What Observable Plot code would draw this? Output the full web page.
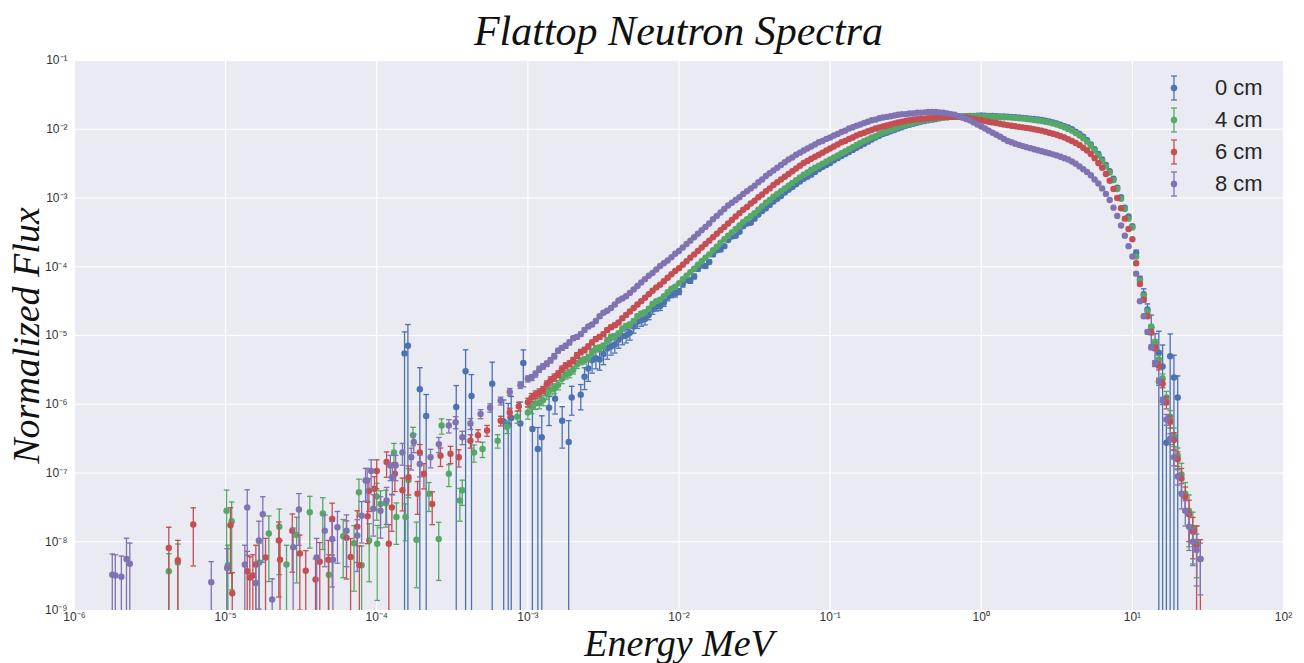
<!DOCTYPE html>
<html>
<head>
<meta charset="utf-8">
<script src="https://cdn.jsdelivr.net/npm/d3@7"></script>
<script src="https://cdn.jsdelivr.net/npm/@observablehq/plot@0.6"></script>
<style>
  body { margin: 0; background: #fff; }
  #title { height: 50px; line-height: 63px; padding-left: 74px; padding-right: 21px; box-sizing: border-box; width: 1304px;
           text-align: center; font-family: "Liberation Serif", "DejaVu Serif", serif; font-style: italic; font-size: 42px; color: #111; white-space: nowrap; overflow: visible; }
  #wrap { position: relative; width: 1304px; height: 613px; }
  .leg { position: absolute; left: 1160px; height: 32px; display: flex; align-items: center;
         font-family: "Liberation Sans", Arial, sans-serif; font-size: 22px; color: #262626; }
  .leg span { margin-left: 27px; }
</style>
</head>
<body>
<div id="title">Flattop Neutron Spectra</div>
<div id="wrap"></div>
<script>
// ---------- data ----------
const seriesNames  = ["0 cm", "4 cm", "6 cm", "8 cm"];
const seriesColors = ["#4C72B0", "#55A868", "#C44E52", "#8172B2"];

const xTicks = [1e-6, 1e-5, 1e-4, 1e-3, 1e-2, 1e-1, 1e0, 1e1, 1e2];
const xTickLabels = ["10\u207B\u2076", "10\u207B\u2075", "10\u207B\u2074", "10\u207B\u00B3", "10\u207B\u00B2", "10\u207B\u00B9", "10\u2070", "10\u00B9", "10\u00B2"];
const yTicks = [1e-9, 1e-8, 1e-7, 1e-6, 1e-5, 1e-4, 1e-3, 1e-2, 1e-1];
const yTickLabels = ["10\u207B\u2079", "10\u207B\u2078", "10\u207B\u2077", "10\u207B\u2076", "10\u207B\u2075", "10\u207B\u2074", "10\u207B\u00B3", "10\u207B\u00B2", "10\u207B\u00B9"];

// energy bins (log10 MeV), 1 keV .. 28 MeV
const gridLogE = [
 -3.00,-2.95,-2.90,-2.85,-2.80,-2.75,-2.70,-2.65,-2.60,-2.55,
 -2.50,-2.45,-2.40,-2.35,-2.30,-2.25,-2.20,-2.15,-2.10,-2.05,
 -2.00,-1.95,-1.90,-1.85,-1.80,-1.75,-1.70,-1.65,-1.60,-1.55,
 -1.50,-1.45,-1.40,-1.35,-1.30,-1.25,-1.20,-1.15,-1.10,-1.05,
 -1.00,-0.95,-0.90,-0.85,-0.80,-0.75,-0.70,-0.65,-0.60,-0.55,
 -0.50,-0.45,-0.40,-0.35,-0.30,-0.25,-0.20,-0.15,-0.10,-0.05,
  0.00, 0.05, 0.10, 0.15, 0.20, 0.25, 0.30, 0.35, 0.40, 0.45,
  0.50, 0.55, 0.60, 0.65, 0.70, 0.75, 0.80, 0.85, 0.90, 0.95,
  1.00, 1.05, 1.10, 1.15, 1.20, 1.25, 1.30, 1.35, 1.40, 1.45];
// intermediate energy bins (log10 MeV)
const midLogE = [
 -2.975,-2.925,-2.875,-2.825,-2.775,-2.725,-2.675,-2.625,-2.575,-2.525,
 -2.475,-2.425,-2.375,-2.325,-2.275,-2.225,-2.175,-2.125,-2.075,-2.025,
 -1.975,-1.925,-1.875,-1.825,-1.775,-1.725,-1.675,-1.625,-1.575,-1.525,
 -1.475,-1.425,-1.375,-1.325,-1.275,-1.225,-1.175,-1.125,-1.075,-1.025,
 -0.975,-0.925,-0.875,-0.825,-0.775,-0.725,-0.675,-0.625,-0.575,-0.525,
 -0.475,-0.425,-0.375,-0.325,-0.275,-0.225,-0.175,-0.125,-0.075,-0.025,
  0.025, 0.075, 0.125, 0.175, 0.225, 0.275, 0.325, 0.375, 0.425, 0.475,
  0.525, 0.575, 0.625, 0.675, 0.725, 0.775, 0.825, 0.875, 0.925, 0.975,
  1.025, 1.075, 1.125, 1.175, 1.225, 1.275, 1.325, 1.375, 1.425];

// log10 normalized flux on the bins
const logFlux0cm = [
 null,null,null,null,null,null,null,null,-5.48,-5.33,
 -5.27,-5.16,-5.06,-5.00,-4.87,-4.78,-4.70,-4.58,-4.52,-4.40,
 -4.36,-4.19,-4.14,-3.98,-3.93,-3.76,-3.70,-3.56,-3.49,-3.37,
 -3.30,-3.19,-3.10,-3.01,-2.92,-2.84,-2.76,-2.69,-2.62,-2.55,
 -2.49,-2.42,-2.36,-2.30,-2.24,-2.18,-2.12,-2.07,-2.03,-1.99,
 -1.95,-1.92,-1.89,-1.87,-1.85,-1.83,-1.82,-1.815,-1.81,-1.805,
 -1.80,-1.805,-1.81,-1.815,-1.82,-1.83,-1.84,-1.85,-1.865,-1.885,
 -1.915,-1.955,-2.00,-2.07,-2.16,-2.29,-2.44,-2.61,-2.85,-3.14,
 -3.41,-4.18,-4.62,-5.15,-5.45,-5.30,-5.90,null,null,null];
const logFlux4cm = [
 -6.12,-5.99,-5.94,-5.79,-5.72,-5.57,-5.50,-5.37,-5.32,-5.19,
 -5.15,-5.02,-4.97,-4.86,-4.79,-4.68,-4.61,-4.50,-4.43,-4.32,
 -4.24,-4.13,-4.03,-3.92,-3.82,-3.71,-3.60,-3.50,-3.40,-3.31,
 -3.22,-3.12,-3.03,-2.94,-2.86,-2.78,-2.70,-2.63,-2.56,-2.50,
 -2.44,-2.38,-2.32,-2.26,-2.20,-2.15,-2.10,-2.05,-2.01,-1.97,
 -1.94,-1.91,-1.88,-1.86,-1.84,-1.83,-1.82,-1.815,-1.81,-1.81,
 -1.81,-1.815,-1.82,-1.825,-1.83,-1.84,-1.85,-1.865,-1.88,-1.90,
 -1.93,-1.97,-2.02,-2.09,-2.18,-2.31,-2.46,-2.63,-2.87,-3.16,
 -3.43,-4.20,-4.65,-5.10,-5.62,-6.18,-6.75,-7.30,-7.80,null];
const logFlux6cm = [
 -5.97,-5.86,-5.79,-5.65,-5.56,-5.44,-5.36,-5.24,-5.16,-5.05,
 -4.98,-4.88,-4.81,-4.70,-4.60,-4.50,-4.40,-4.30,-4.21,-4.11,
 -4.02,-3.92,-3.82,-3.72,-3.62,-3.52,-3.42,-3.32,-3.22,-3.13,
 -3.04,-2.95,-2.86,-2.77,-2.69,-2.61,-2.53,-2.46,-2.40,-2.34,
 -2.28,-2.22,-2.17,-2.12,-2.07,-2.03,-1.99,-1.96,-1.93,-1.90,
 -1.88,-1.86,-1.85,-1.84,-1.83,-1.82,-1.82,-1.82,-1.83,-1.85,
 -1.87,-1.89,-1.91,-1.93,-1.95,-1.965,-1.98,-2.00,-2.02,-2.05,
 -2.08,-2.12,-2.17,-2.23,-2.31,-2.42,-2.56,-2.75,-3.00,-3.30,
 -3.60,-4.25,-4.72,-5.18,-5.70,-6.25,-6.80,-7.35,-7.85,-8.25];
const logFlux8cm = [
 -5.63,-5.56,-5.45,-5.36,-5.22,-5.15,-5.04,-4.98,-4.87,-4.79,
 -4.67,-4.60,-4.49,-4.43,-4.33,-4.23,-4.13,-4.04,-3.95,-3.86,
 -3.77,-3.67,-3.57,-3.47,-3.37,-3.26,-3.16,-3.07,-2.99,-2.90,
 -2.82,-2.73,-2.64,-2.56,-2.48,-2.41,-2.34,-2.28,-2.22,-2.17,
 -2.12,-2.07,-2.02,-1.97,-1.93,-1.89,-1.86,-1.83,-1.81,-1.79,
 -1.78,-1.77,-1.76,-1.75,-1.75,-1.76,-1.78,-1.81,-1.85,-1.90,
 -1.96,-2.02,-2.08,-2.14,-2.19,-2.23,-2.26,-2.29,-2.32,-2.35,
 -2.38,-2.42,-2.47,-2.54,-2.62,-2.73,-2.86,-3.03,-3.26,-3.55,
 -3.85,-4.50,-4.95,-5.40,-5.95,-6.50,-7.05,-7.55,-8.00,-8.25];

// log10 normalized flux on the intermediate bins
const midFlux0cm = [
 null,null,null,null,null,null,null,-5.60,-5.36,-5.35,
 -5.19,-5.13,-5.01,-4.96,-4.80,-4.76,-4.62,-4.57,-4.44,-4.39,
 -4.25,-4.20,-4.03,-3.99,-3.82,-3.75,-3.61,-3.55,-3.41,-3.36,
 -3.24,-3.15,-3.05,-2.97,-2.88,-2.80,-2.72,-2.66,-2.58,-2.52,
 -2.45,-2.39,-2.33,-2.27,-2.21,-2.15,-2.095,-2.05,-2.01,-1.97,
 -1.935,-1.905,-1.88,-1.86,-1.84,-1.825,-1.817,-1.812,-1.807,-1.802,
 -1.802,-1.807,-1.812,-1.817,-1.825,-1.835,-1.845,-1.857,-1.875,-1.90,
 -1.935,-1.975,-2.035,-2.11,-2.22,-2.36,-2.52,-2.72,-2.99,-3.27,
 -3.80,-4.40,-4.88,-5.25,-6.56,-5.61,null,null,null];
const midFlux4cm = [
 -6.04,-5.98,-5.85,-5.77,-5.63,-5.55,-5.42,-5.36,-5.24,-5.18,
 -5.07,-5.01,-4.90,-4.84,-4.72,-4.66,-4.54,-4.48,-4.37,-4.29,
 -4.18,-4.08,-3.97,-3.87,-3.76,-3.65,-3.55,-3.45,-3.35,-3.26,
 -3.17,-3.07,-2.98,-2.90,-2.82,-2.74,-2.66,-2.59,-2.53,-2.47,
 -2.41,-2.35,-2.29,-2.23,-2.17,-2.12,-2.07,-2.03,-1.99,-1.955,
 -1.925,-1.895,-1.87,-1.85,-1.835,-1.825,-1.817,-1.812,-1.81,-1.81,
 -1.812,-1.817,-1.822,-1.827,-1.835,-1.845,-1.857,-1.872,-1.89,-1.915,
 -1.95,-1.995,-2.055,-2.13,-2.24,-2.38,-2.54,-2.74,-3.01,-3.30,
 -3.85,-4.42,-4.88,-5.35,-5.90,-6.46,-7.02,-7.55,-8.00];
const midFlux6cm = [
 -5.90,-5.83,-5.71,-5.61,-5.49,-5.41,-5.29,-5.21,-5.10,-5.02,
 -4.92,-4.85,-4.75,-4.65,-4.55,-4.45,-4.35,-4.26,-4.16,-4.06,
 -3.97,-3.87,-3.77,-3.67,-3.57,-3.47,-3.37,-3.27,-3.17,-3.08,
 -2.99,-2.90,-2.81,-2.73,-2.65,-2.57,-2.49,-2.43,-2.37,-2.31,
 -2.25,-2.19,-2.14,-2.09,-2.05,-2.01,-1.975,-1.945,-1.915,-1.89,
 -1.87,-1.855,-1.845,-1.835,-1.825,-1.82,-1.82,-1.825,-1.84,-1.86,
 -1.88,-1.90,-1.92,-1.94,-1.957,-1.972,-1.99,-2.01,-2.035,-2.065,
 -2.10,-2.145,-2.20,-2.27,-2.36,-2.49,-2.65,-2.87,-3.15,-3.45,
 -3.95,-4.48,-4.95,-5.44,-5.97,-6.52,-7.08,-7.60,-8.05];
const midFlux8cm = [
 -5.61,-5.49,-5.41,-5.30,-5.18,-5.10,-5.02,-4.92,-4.84,-4.72,
 -4.64,-4.55,-4.46,-4.38,-4.28,-4.18,-4.09,-3.99,-3.91,-3.81,
 -3.72,-3.62,-3.52,-3.42,-3.31,-3.21,-3.11,-3.03,-2.94,-2.86,
 -2.77,-2.68,-2.60,-2.52,-2.44,-2.37,-2.31,-2.25,-2.19,-2.14,
 -2.09,-2.04,-1.99,-1.95,-1.91,-1.87,-1.84,-1.82,-1.80,-1.78,
 -1.77,-1.76,-1.755,-1.75,-1.755,-1.77,-1.79,-1.83,-1.87,-1.93,
 -1.99,-2.05,-2.11,-2.17,-2.21,-2.245,-2.275,-2.305,-2.335,-2.365,
 -2.40,-2.44,-2.50,-2.58,-2.67,-2.79,-2.94,-3.14,-3.40,-3.70,
 -4.10,-4.72,-5.17,-5.67,-6.22,-6.77,-7.30,-7.78,-8.12];

// relative errors (%) on the bins
const relErr0cm = [
 0,0,0,0,0,0,0,0,35,30,
 30,25,25,22,20,18,15,14,12,11,
 10,9,8,7,6,6,5,5,4,4,
 3,3,3,3,3,3,2,2,2,2,
 2,2,2,2,2,2,2,2,2,2,
 1,1,1,1,1,1,1,1,1,1,
 1,1,1,1,1,1,1,1,1,1,
 1,1,1,1,1,1,1,1,2,2,
 3,10,20,50,105,110,105,0,0,0];
const relErr4cm = [
 20,18,17,16,15,14,13,12,11,10,
 9,9,8,8,7,6,6,5,5,4,
 4,3,3,3,3,2,2,2,2,2,
 2,2,2,2,2,2,2,2,2,2,
 1,1,1,1,1,1,1,1,1,1,
 1,1,1,1,1,1,1,1,1,1,
 1,1,1,1,1,1,1,1,1,1,
 1,1,1,1,1,1,1,1,2,2,
 3,5,7,10,15,22,30,45,70,0];
const relErr6cm = [
 14,13,12,12,11,10,10,9,8,8,
 7,7,6,6,5,5,4,4,4,3,
 3,3,2,2,2,2,2,2,2,2,
 2,2,2,2,2,2,2,2,2,2,
 1,1,1,1,1,1,1,1,1,1,
 1,1,1,1,1,1,1,1,1,1,
 1,1,1,1,1,1,1,1,1,1,
 1,1,1,1,1,1,1,1,2,2,
 2,5,7,9,13,20,28,40,60,90];
const relErr8cm = [
 10,10,9,9,8,8,7,7,6,6,
 5,5,5,4,4,4,3,3,3,3,
 2,2,2,2,2,2,2,2,2,2,
 2,2,2,2,2,2,2,2,2,2,
 1,1,1,1,1,1,1,1,1,1,
 1,1,1,1,1,1,1,1,1,1,
 1,1,1,1,1,1,1,1,1,1,
 1,1,1,1,1,1,1,1,2,2,
 2,4,6,8,12,18,25,40,55,70];

// sparse low-energy bins (log10 MeV, log10 flux, relative error %)
const lowLogE0cm = [-3.816,-3.794,-3.715,-3.673,-3.474,-3.412,-3.373,-3.236,-3.16,-3.13,-3.11,-3.05,-3.03,-2.97,-2.934,-2.908,-2.86,-2.82,-2.773,-2.73,-2.71,-2.65];
const lowLogF0cm = [-5.26,-5.15,-5.78,-6.17,-6.04,-5.52,-5.88,-5.70,-6.25,-6.30,-6.20,-6.28,-5.40,-6.36,-6.65,-6.48,-6.05,-5.92,-6.24,-6.55,-5.90,-5.86];
const lowRel0cm  = [105,104,105,105,105,105,105,105,105,105,105,105,55,105,105,105,45,40,60,105,45,40];

const lowLogE4cm = [-5.376,-5.316,-4.994,-4.985,-4.96,-4.777,-4.714,-4.645,-4.597,-4.53,-4.443,-4.357,-4.317,-4.222,-4.15,-4.118,-4.10,-4.05,-4.00,-3.997,-3.975,-3.94,-3.886,-3.87,-3.81,-3.79,-3.76,-3.737,-3.655,-3.59,-3.571,-3.523,-3.45,-3.434,-3.357,-3.30,-3.20,-3.137,-3.07];
const lowLogF4cm = [-8.43,-8.30,-7.55,-8.34,-7.70,-8.30,-7.88,-7.78,-8.33,-7.90,-7.57,-7.59,-8.48,-7.92,-8.02,-7.28,-8.34,-7.98,-7.34,-8.03,-7.45,-7.44,-6.70,-7.64,-7.64,-7.10,-6.45,-7.97,-7.30,-7.96,-6.31,-7.01,-7.40,-7.25,-6.70,-6.65,-6.53,-6.33,-6.18];
const lowRel4cm  = [80,85,100,95,90,90,80,80,90,80,70,70,95,75,80,55,90,75,55,85,55,55,35,60,55,45,30,80,45,75,25,35,50,40,28,25,22,20,20];

const lowLogE6cm = [-5.376,-5.316,-5.214,-4.968,-4.956,-4.857,-4.84,-4.82,-4.80,-4.736,-4.648,-4.64,-4.559,-4.509,-4.47,-4.405,-4.377,-4.32,-4.295,-4.20,-4.173,-4.129,-4.115,-4.06,-4.052,-4.015,-4.00,-3.935,-3.92,-3.90,-3.88,-3.83,-3.79,-3.73,-3.715,-3.688,-3.633,-3.578,-3.512,-3.457,-3.38,-3.33,-3.27,-3.18,-3.12,-3.06];
const lowLogF6cm = [-8.09,-8.27,-7.75,-7.76,-8.75,-8.43,-8.52,-8.49,-8.33,-8.23,-7.98,-8.26,-7.84,-8.17,-8.42,-8.55,-8.29,-8.26,-7.67,-7.94,-8.22,-7.78,-8.34,-7.63,-7.26,-7.23,-6.97,-6.84,-8.03,-7.50,-7.01,-7.25,-7.06,-7.30,-6.70,-7.01,-7.45,-6.75,-6.72,-6.77,-6.53,-6.45,-6.38,-6.24,-6.12,-6.03];
const lowRel6cm  = [100,95,75,80,100,95,100,100,90,90,85,90,75,85,95,100,90,90,70,75,85,70,90,60,50,50,45,40,90,55,45,50,45,50,30,40,50,30,28,28,22,20,18,16,15,14];

const lowLogE8cm = [-5.75,-5.73,-5.69,-5.656,-5.634,-5.095,-4.99,-4.873,-4.857,-4.80,-4.78,-4.754,-4.692,-4.553,-4.515,-4.398,-4.344,-4.295,-4.29,-4.26,-4.20,-4.129,-4.10,-4.074,-4.063,-4.037,-4.023,-3.975,-3.935,-3.91,-3.897,-3.875,-3.83,-3.772,-3.755,-3.715,-3.644,-3.589,-3.523,-3.478,-3.434,-3.38,-3.313,-3.25,-3.18,-3.12,-3.05];
const lowLogF8cm = [-8.48,-8.49,-8.51,-8.25,-8.32,-8.59,-8.38,-8.33,-7.50,-8.60,-7.98,-7.60,-8.84,-8.08,-7.53,-8.23,-7.84,-7.96,-8.26,-7.79,-7.84,-7.91,-7.62,-7.11,-7.11,-6.97,-7.52,-7.55,-7.40,-6.89,-7.06,-6.89,-6.70,-6.77,-6.55,-6.87,-6.77,-6.58,-6.31,-6.26,-6.48,-6.28,-6.14,-6.05,-5.95,-5.82,-5.72];
const lowRel8cm  = [100,100,100,100,100,100,90,90,80,100,90,80,100,90,70,90,70,80,90,70,70,70,60,50,50,45,60,60,55,40,45,40,35,35,30,35,30,25,22,20,22,18,15,14,13,12,11];

// ---------- build tables ----------
const seriesDefs = [
  {grid: logFlux0cm, mid: midFlux0cm, rel: relErr0cm, lowE: lowLogE0cm, lowF: lowLogF0cm, lowR: lowRel0cm},
  {grid: logFlux4cm, mid: midFlux4cm, rel: relErr4cm, lowE: lowLogE4cm, lowF: lowLogF4cm, lowR: lowRel4cm},
  {grid: logFlux6cm, mid: midFlux6cm, rel: relErr6cm, lowE: lowLogE6cm, lowF: lowLogF6cm, lowR: lowRel6cm},
  {grid: logFlux8cm, mid: midFlux8cm, rel: relErr8cm, lowE: lowLogE8cm, lowF: lowLogF8cm, lowR: lowRel8cm}
];

function rowsFor(s) {
  const out = [];
  const add = (le, lf, rp) => {
    if (lf == null) return;
    const E = Math.pow(10, le), F = Math.pow(10, lf), r = rp / 100;
    out.push({E, F, r, hi: F * (1 + r), lo: r >= 1 ? 1e-12 : F * (1 - r)});
  };
  s.lowE.forEach((le, i) => add(le, s.lowF[i], s.lowR[i]));
  gridLogE.forEach((le, i) => add(le, s.grid[i], s.rel[i]));
  // intermediate bins take the larger error of their two neighbouring bins
  midLogE.forEach((le, i) => add(le, s.mid[i], Math.max(s.rel[i], s.rel[i + 1])));
  return out;
}

const capSymbol = {
  draw(ctx, size) {
    const w = Math.sqrt(size / Math.PI);
    ctx.moveTo(-w, 0);
    ctx.lineTo(w, 0);
  }
};

const marks = [
  Plot.frame({fill: "#EAEAF2", stroke: "none"}),
  Plot.gridX(xTicks, {stroke: "white", strokeOpacity: 1, strokeWidth: 1.2}),
  Plot.gridY(yTicks, {stroke: "white", strokeOpacity: 1, strokeWidth: 1.2})
];

seriesDefs.forEach((s, k) => {
  const c = seriesColors[k];
  const rows = rowsFor(s);
  const capped = rows.filter(d => d.r >= 0.04);
  marks.push(Plot.ruleX(rows.filter(d => d.r > 0), {x: "E", y1: "lo", y2: "hi", stroke: c, strokeWidth: 1.3, clip: true}));
  marks.push(Plot.dot(capped, {x: "E", y: "hi", symbol: capSymbol, r: 2.8, fill: "none", stroke: c, strokeWidth: 1.3, clip: true}));
  marks.push(Plot.dot(capped.filter(d => d.r < 1), {x: "E", y: "lo", symbol: capSymbol, r: 2.8, fill: "none", stroke: c, strokeWidth: 1.3, clip: true}));
  marks.push(Plot.dot(rows, {x: "E", y: "F", r: 3.2, fill: c, stroke: "none", clip: true}));
});

marks.push(
  Plot.axisX(xTicks, {tickFormat: d => xTickLabels[xTicks.indexOf(d)], tickSize: 0, tickPadding: 2, label: null, fontSize: 12}),
  Plot.axisY(yTicks, {tickFormat: d => yTickLabels[yTicks.indexOf(d)], tickSize: 0, tickPadding: 7, label: null, fontSize: 12}),
  Plot.text(["Energy MeV"], {text: d => d, frameAnchor: "bottom", lineAnchor: "middle", textAnchor: "middle", dy: 33, fontSize: 38, fontStyle: "italic",
    fontFamily: "Liberation Serif, DejaVu Serif, serif", fill: "#111"}),
  Plot.text(["Normalized Flux"], {text: d => d, frameAnchor: "left", lineAnchor: "middle", textAnchor: "middle", rotate: -90, dx: -48, fontSize: 38, fontStyle: "italic",
    fontFamily: "Liberation Serif, DejaVu Serif, serif", fill: "#111"})
);

const chart = Plot.plot({
  width: 1304, height: 613,
  marginTop: 10, marginBottom: 53, marginLeft: 74, marginRight: 21,
  x: {type: "log", domain: [1e-6, 1e2]},
  y: {type: "log", domain: [1e-9, 1e-1]},
  style: {background: "transparent", fontFamily: "Liberation Sans, Arial, sans-serif", fontSize: "12px", color: "#333", overflow: "visible"},
  marks
});

const wrap = document.getElementById("wrap");
wrap.appendChild(chart);

// legend (inside the plot area, top right)
const legendTops = [22, 54, 86, 118];
seriesNames.forEach((name, k) => {
  const c = seriesColors[k];
  const div = document.createElement("div");
  div.className = "leg";
  div.style.top = legendTops[k] + "px";
  div.innerHTML =
    `<svg width="28" height="32" viewBox="0 0 28 32">
       <line x1="14" y1="4" x2="14" y2="28" stroke="${c}" stroke-width="1.3"/>
       <line x1="11" y1="4" x2="17" y2="4" stroke="${c}" stroke-width="1.3"/>
       <line x1="11" y1="28" x2="17" y2="28" stroke="${c}" stroke-width="1.3"/>
       <circle cx="14" cy="16" r="3.2" fill="${c}"/>
     </svg><span>${name}</span>`;
  wrap.appendChild(div);
});
</script>
</body>
</html>
